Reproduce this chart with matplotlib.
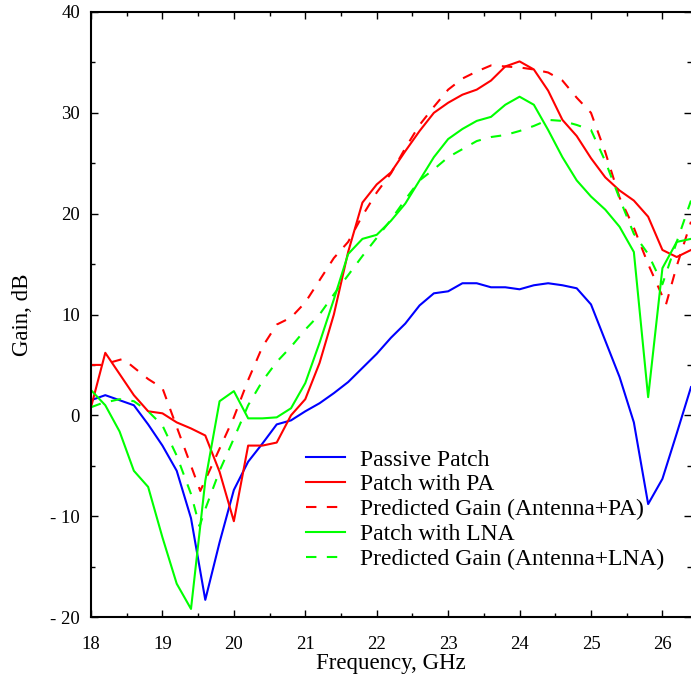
import matplotlib
matplotlib.use("Agg")
import matplotlib.pyplot as plt
from matplotlib.ticker import MultipleLocator, FuncFormatter

plt.rcParams['font.family'] = ['Liberation Serif', 'DejaVu Serif']

# Measured frequencies (GHz)
freq = [18.0, 18.2, 18.4, 18.6, 18.8, 19.0, 19.2, 19.4, 19.6, 19.8,
        20.0, 20.2, 20.4, 20.6, 20.8, 21.0, 21.2, 21.4, 21.6, 21.8,
        22.0, 22.2, 22.4, 22.6, 22.8, 23.0, 23.2, 23.4, 23.6, 23.8,
        24.0, 24.2, 24.4, 24.6, 24.8, 25.0, 25.2, 25.4, 25.6, 25.8,
        26.0, 26.2, 26.4]

passive_patch = [1.5, 2.0, 1.5, 1.0, -0.9, -3.0, -5.5, -10.2, -18.3, -12.6,
                 -7.4, -4.6, -2.8, -0.9, -0.5, 0.4, 1.2, 2.2, 3.3, 4.7,
                 6.1, 7.7, 9.1, 10.9, 12.1, 12.3, 13.1, 13.1, 12.7, 12.7,
                 12.5, 12.9, 13.1, 12.9, 12.6, 11.0, 7.4, 3.8, -0.7, -8.8,
                 -6.3, -1.8, 2.8]

patch_pa = [0.8, 6.2, 4.1, 2.0, 0.4, 0.2, -0.7, -1.3, -2.0, -5.6,
            -10.5, -3.0, -3.0, -2.7, 0.0, 1.6, 5.2, 10.0, 16.2, 21.1,
            22.9, 24.1, 26.2, 28.2, 30.0, 31.0, 31.8, 32.3, 33.2, 34.6,
            35.1, 34.3, 32.2, 29.3, 27.7, 25.5, 23.6, 22.3, 21.3, 19.7,
            16.4, 15.7, 16.4]

patch_lna = [2.5, 1.0, -1.6, -5.5, -7.1, -12.1, -16.7, -19.2, -6.5, 1.4,
             2.4, -0.3, -0.3, -0.2, 0.7, 3.2, 7.2, 11.5, 16.0, 17.5,
             17.9, 19.3, 21.0, 23.3, 25.6, 27.4, 28.4, 29.2, 29.6, 30.8,
             31.6, 30.8, 28.3, 25.6, 23.3, 21.7, 20.4, 18.7, 16.2, 1.8,
             14.6, 17.2, 17.5]

# Predicted gain (Antenna + PA)
freq_pred_pa = [18.0, 18.15, 18.45, 18.8, 19.0, 19.53, 20.0, 20.2, 20.4, 20.6,
                20.8, 21.0, 21.2, 21.4, 21.6, 21.8, 22.0, 22.2, 22.4, 22.6,
                22.8, 23.0, 23.2, 23.4, 23.6, 23.8, 24.0, 24.2, 24.4, 24.6,
                24.8, 25.0, 25.2, 25.4, 25.6, 25.8, 26.05, 26.2, 26.4]
pred_pa = [5.0, 5.0, 5.6, 3.6, 2.7, -7.5, -0.2, 3.5, 6.8, 9.0,
           9.7, 11.2, 13.4, 15.6, 17.2, 19.8, 22.1, 24.0, 26.5, 28.8,
           30.6, 32.3, 33.4, 34.1, 34.7, 34.6, 34.5, 34.3, 34.0, 33.2,
           31.5, 30.0, 26.1, 21.6, 18.6, 15.0, 11.0, 14.8, 19.2]

# Predicted gain (Antenna + LNA)
freq_pred_lna = [18.0, 18.15, 18.4, 18.6, 18.8, 19.0, 19.2, 19.4, 19.52, 19.6,
                 19.8, 20.0, 20.2, 20.4, 20.6, 20.8, 21.0, 21.2, 21.4, 21.6,
                 21.8, 22.0, 22.2, 22.4, 22.6, 22.8, 23.0, 23.2, 23.4, 23.6,
                 23.8, 24.0, 24.2, 24.4, 24.6, 24.8, 25.0, 25.2, 25.4, 25.6,
                 25.8, 26.0, 26.2, 26.4]
pred_lna = [0.8, 1.2, 1.6, 1.4, 0.4, -1.0, -4.0, -7.8, -11.0, -9.3,
            -5.5, -2.3, 1.0, 3.4, 5.3, 6.8, 8.5, 10.0, 12.0, 13.9,
            15.8, 17.6, 19.4, 21.4, 23.3, 24.4, 25.6, 26.4, 27.2, 27.6,
            27.8, 28.2, 28.7, 29.3, 29.2, 28.8, 28.3, 25.2, 21.5, 18.0,
            16.0, 13.0, 17.2, 21.3]

labels = ["Passive Patch", "Patch with PA", "Predicted Gain (Antenna+PA)",
          "Patch with LNA", "Predicted Gain (Antenna+LNA)"]

W, H = 691, 675
fig = plt.figure(figsize=(W / 100, H / 100), dpi=100)
ax = fig.add_axes([91 / W, 1 - 617 / H, (691 - 91) / W, (617 - 12) / H])

lw = 1.5
dash = (0, (5, 5))
ax.plot(freq, passive_patch, color='#0000ff', lw=lw, label=labels[0])
ax.plot(freq, patch_pa, color='#ff0000', lw=lw, label=labels[1])
ax.plot(freq_pred_pa, pred_pa, color='#ff0000', lw=lw, linestyle=dash, label=labels[2])
ax.plot(freq, patch_lna, color='#00ff00', lw=lw, label=labels[3])
ax.plot(freq_pred_lna, pred_lna, color='#00ff00', lw=lw, linestyle=dash, label=labels[4])

ax.set_xlim(18, 26.4)
ax.set_ylim(-20, 40)
ax.xaxis.set_major_locator(MultipleLocator(1))
ax.xaxis.set_minor_locator(MultipleLocator(0.5))
ax.yaxis.set_major_locator(MultipleLocator(10))
ax.yaxis.set_minor_locator(MultipleLocator(5))


def yfmt(v, pos):
    v = int(round(v))
    return f"- {abs(v)}" if v < 0 else f"{v}"


ax.yaxis.set_major_formatter(FuncFormatter(yfmt))

ax.tick_params(which='both', direction='in', top=True, right=True, width=1.0,
               labelsize=13.5)
ax.tick_params(which='major', length=5)
ax.tick_params(which='minor', length=3)
ax.tick_params(axis='x', which='major', pad=14)
ax.tick_params(axis='y', which='major', pad=8)

for side in ['left', 'top', 'bottom']:
    ax.spines[side].set_linewidth(1.5)
ax.spines['right'].set_visible(False)

ax.set_xlabel("Frequency, GHz", fontsize=16.5, labelpad=0)
ax.set_ylabel("Gain, dB", fontsize=16.5, labelpad=12)

leg = fig.legend(loc='upper left', bbox_to_anchor=(306 / W, 1 - 449 / H),
                 frameon=False, fontsize=17, handlelength=1.65,
                 handletextpad=0.65, labelspacing=0.14, borderpad=0,
                 borderaxespad=0)

fig.savefig("out.png", dpi=100)
